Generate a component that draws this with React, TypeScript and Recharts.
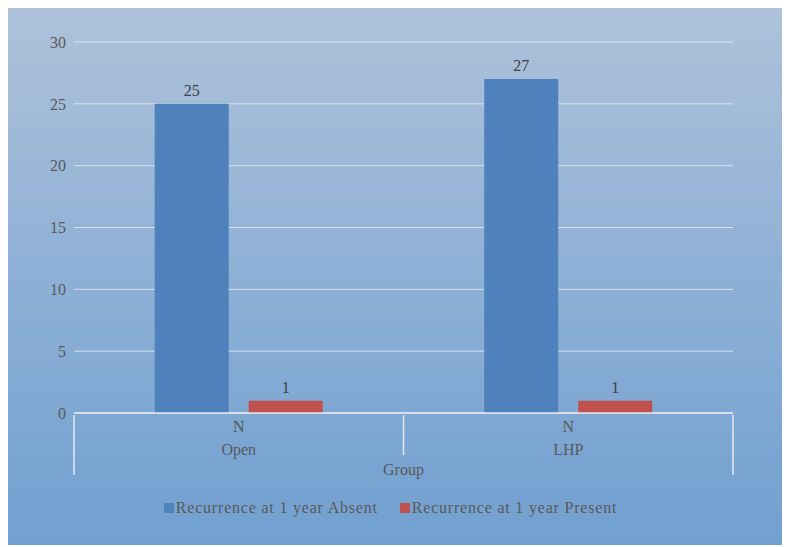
import { BarChart, Bar, XAxis, YAxis, CartesianGrid, LabelList, Legend } from 'recharts';

const groups = ['Open', 'LHP'];
const absentCounts = [25, 27];
const presentCounts = [1, 1];
const yTicks = [0, 5, 10, 15, 20, 25, 30];
const seriesNames = ['Recurrence at 1 year Absent', 'Recurrence at 1 year Present'];
const seriesColors = ['#4f81bd', '#c0504d'];

const data = groups.map((g, i) => ({
  group: g,
  absent: absentCounts[i],
  present: presentCounts[i],
}));

const FONT = '"Liberation Serif", "Times New Roman", serif';
const TEXT = '#595959';
const LINE = '#e4e9f0';

function GroupTick({ x, y, payload, index }: any) {
  const half = payload?.offset ?? 164.75;
  const last = index === groups.length - 1;
  return (
    <g>
      <line x1={x - half} y1={y} x2={x - half} y2={y + (index === 0 ? 60 : 40)} stroke={LINE} strokeWidth={1.5} />
      {last && <line x1={x + half} y1={y} x2={x + half} y2={y + 60} stroke={LINE} strokeWidth={1.5} />}
      <text x={x} y={y + 17} textAnchor="middle" fill={TEXT} fontSize={16} fontFamily={FONT}>N</text>
      <text x={x} y={y + 40} textAnchor="middle" fill={TEXT} fontSize={16} fontFamily={FONT}>{payload.value}</text>
      {last && (
        <text x={x - half} y={y + 60} textAnchor="middle" fill={TEXT} fontSize={16} fontFamily={FONT}>Group</text>
      )}
    </g>
  );
}

function LegendBox() {
  return (
    <div style={{ display: 'flex', justifyContent: 'center', gap: 22, fontFamily: FONT, fontSize: 16, letterSpacing: 0.8, color: TEXT, paddingLeft: 42 }}>
      {seriesNames.map((n, i) => (
        <span key={n} style={{ display: 'flex', alignItems: 'center' }}>
          <span style={{ width: 10, height: 10, background: seriesColors[i], marginRight: 2, display: 'inline-block' }} />
          {n}
        </span>
      ))}
    </div>
  );
}

export default function App() {
  return (
    <div
      style={{
        marginLeft: -2,
        width: 783,
        height: 537,
        background: 'linear-gradient(to bottom, #aec2da 0%, #8eb0d6 50%, #71a0d0 100%)',
      }}
    >
      <BarChart
        width={783}
        height={537}
        data={data}
        margin={{ top: 34, right: 56, bottom: 49, left: 0 }}
        barCategoryGap="24.5%"
        barGap={20}
      >
        <CartesianGrid vertical={false} stroke={LINE} strokeOpacity={0.85} />
        <YAxis
          domain={[0, 30]}
          ticks={yTicks}
          width={68}
          axisLine={false}
          tickLine={false}
          tickMargin={2}
          tick={{ fill: TEXT, fontSize: 16, fontFamily: FONT }}
        />
        <XAxis
          dataKey="group"
          height={65}
          axisLine={{ stroke: LINE, strokeWidth: 1.5 }}
          tickLine={false}
          tickSize={0}
          tick={<GroupTick />}
          interval={0}
        />
        <Legend verticalAlign="bottom" content={<LegendBox />} wrapperStyle={{ bottom: 28 }} />
        <Bar dataKey="absent" name={seriesNames[0]} fill={seriesColors[0]} isAnimationActive={false}>
          <LabelList dataKey="absent" position="top" offset={8} fill="#404040" fontSize={16} fontFamily={FONT} />
        </Bar>
        <Bar dataKey="present" name={seriesNames[1]} fill={seriesColors[1]} isAnimationActive={false}>
          <LabelList dataKey="present" position="top" offset={8} fill="#404040" fontSize={16} fontFamily={FONT} />
        </Bar>
      </BarChart>
    </div>
  );
}
